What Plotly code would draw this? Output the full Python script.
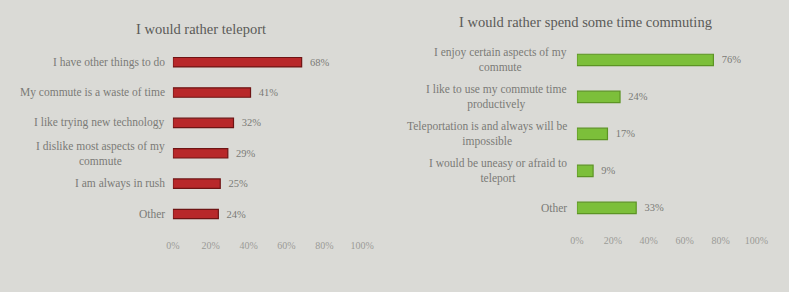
import plotly.graph_objects as go

left_title = "I would rather teleport"
left_cats = ["I have other things to do", "My commute is a waste of time",
             "I like trying new technology", "I dislike most aspects of my<br>commute",
             "I am always in rush", "Other"]
left_vals = [68, 41, 32, 29, 25, 24]

right_title = "I would rather spend some time commuting"
right_cats = ["I enjoy certain aspects of my<br>commute", "I like to use my commute time<br>productively",
              "Teleportation is and always will be<br>impossible", "I would be uneasy or afraid to<br>teleport",
              "Other"]
right_vals = [76, 24, 17, 9, 33]

tick_vals = [0, 20, 40, 60, 80, 100]
tick_text = ["0%", "20%", "40%", "60%", "80%", "100%"]

W, H = 789, 292
FONT = "Liberation Serif"
LABEL = "#7a7a77"

fig = go.Figure()
fig.add_trace(go.Bar(
    x=left_vals, y=left_cats, orientation="h", xaxis="x", yaxis="y",
    marker=dict(color="#b8282a", line=dict(color="#6e1414", width=1.2)),
    text=[f"  {v}%" for v in left_vals], textposition="outside", cliponaxis=False,
    constraintext="none",
    textfont=dict(family=FONT, size=10.5, color=LABEL), showlegend=False,
))
fig.add_trace(go.Bar(
    x=right_vals, y=right_cats, orientation="h", xaxis="x2", yaxis="y2",
    marker=dict(color="#7cbf3a", line=dict(color="#5c9424", width=1.2)),
    text=[f"  {v}%" for v in right_vals], textposition="outside", cliponaxis=False,
    constraintext="none",
    textfont=dict(family=FONT, size=10.5, color=LABEL), showlegend=False,
))

def xa(x0, x1):
    return dict(domain=[x0 / W, x1 / W], range=[0, 100], tickvals=tick_vals, ticktext=tick_text,
                showgrid=False, zeroline=False, showline=False, ticks="",
                tickfont=dict(family=FONT, size=10, color="#9a9a96"), fixedrange=True)

def ya(top, bottom, anchor):
    return dict(domain=[1 - bottom / H, 1 - top / H], showgrid=False, zeroline=False, showline=False,
                ticks="", showticklabels=False, anchor=anchor, automargin=False)

LX0, LX1 = 170, 364
RX0, RX1 = 584, 768

annotations = [
    dict(text=left_title, x=199 / W, y=1 - 29 / H, xref="paper", yref="paper",
         xanchor="center", yanchor="middle",
         showarrow=False, font=dict(family=FONT, size=14.5, color="#5a5a58")),
    dict(text=right_title, x=593 / W, y=1 - 22 / H, xref="paper", yref="paper",
         xanchor="center", yanchor="middle",
         showarrow=False, font=dict(family=FONT, size=14.5, color="#5a5a58")),
]
for c in left_cats:
    annotations.append(dict(text=c, x=LX0 / W, y=c, xref="paper", yref="y", xanchor="right",
                            yanchor="middle", align="center", xshift=-6, showarrow=False,
                            font=dict(family=FONT, size=11.5, color=LABEL)))
for c in right_cats:
    annotations.append(dict(text=c, x=RX0 / W, y=c, xref="paper", yref="y2", xanchor="right",
                            yanchor="middle", align="center", xshift=-8, showarrow=False,
                            font=dict(family=FONT, size=11.5, color=LABEL)))

fig.update_layout(
    width=W, height=H, margin=dict(l=0, r=0, t=0, b=0),
    paper_bgcolor="#dadad6", plot_bgcolor="#dadad6",
    bargap=0.69,
    xaxis=dict(xa(LX0, LX1), anchor="y"),
    xaxis2=dict(xa(RX0, RX1), anchor="y2"),
    yaxis=dict(ya(47, 238, "x"), categoryorder="array", categoryarray=left_cats[::-1],
               range=[-0.79, 5.5]),
    yaxis2=dict(ya(41.5, 233, "x2"), categoryorder="array", categoryarray=right_cats[::-1],
                range=[-0.68, 4.5]),
    annotations=annotations,
)

fig.write_html("out.html")
